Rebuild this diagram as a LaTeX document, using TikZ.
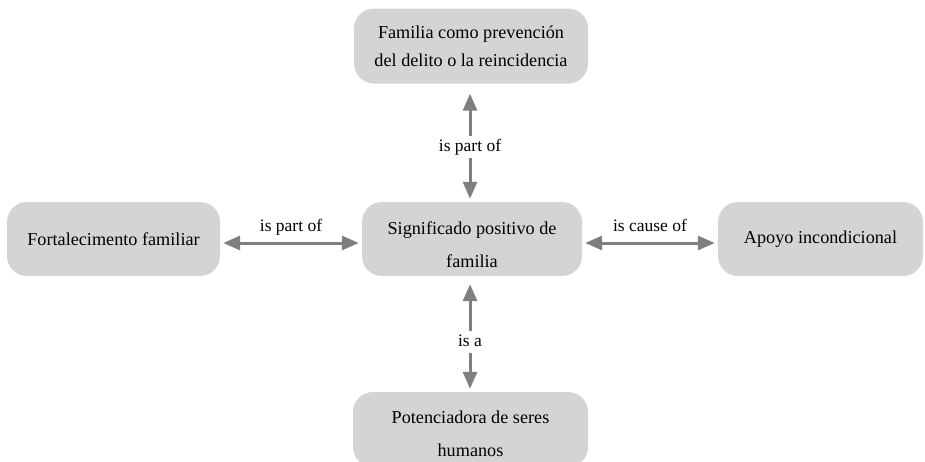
\documentclass[tikz,border=0pt]{standalone}
\usepackage{fontspec}
\setmainfont{Liberation Serif}
\usetikzlibrary{arrows.meta}
\definecolor{boxgray}{HTML}{D4D4D6}
\definecolor{arrgray}{HTML}{7F7F82}
\tikzset{
  concept/.style={rounded corners=20pt, fill=boxgray, draw=none, align=center,
    font=\fontsize{18.2}{28}\selectfont, inner sep=0pt},
  wide/.style={font=\fontsize{18.2}{33}\selectfont},
  link/.style={draw=arrgray, line width=3pt, {Triangle[length=17pt,width=14pt]}-{Triangle[length=17pt,width=14pt]}},
  lbl/.style={font=\fontsize{17.5}{22}\selectfont, inner sep=2pt, text height=12pt, text depth=4pt},
  vlbl/.style={lbl, fill=white, inner sep=3pt}
}
\begin{document}
\begin{tikzpicture}[x=1pt,y=-1pt]
\useasboundingbox (0,0) rectangle (925,461);
\node[concept, minimum width=234pt, minimum height=75pt] (top) at (471,46) {Familia como prevención\\del delito o la reincidencia};
\node[concept, minimum width=213pt, minimum height=74pt] (left) at (113.5,239) {Fortalecimento familiar};
\node[concept, wide, minimum width=220pt, minimum height=74pt] (mid) at (472,239) {\raisebox{-5pt}[\height][\depth]{\begin{tabular}{@{}c@{}}Significado positivo de\\familia\end{tabular}}};
\node[concept, minimum width=205pt, minimum height=74pt] (right) at (820.5,239) {Apoyo incondicional};
\node[concept, wide, minimum width=235pt, minimum height=75pt] (bot) at (470.5,429.5) {\raisebox{-4pt}[\height][\depth]{\begin{tabular}{@{}c@{}}Potenciadora de seres\\humanos\end{tabular}}};
\draw[link, shorten <=10pt, shorten >=3pt] ([xshift=-2pt]top.south -| mid.north) -- node[vlbl, pos=0.54] {is part of} ([xshift=-2pt]mid.north);
\draw[link, shorten <=3pt, shorten >=3pt] ([yshift=-4pt]mid.west) -- node[lbl, above=4pt] {is part of} ([yshift=-4pt]left.east);
\draw[link, shorten <=3pt, shorten >=3pt] ([yshift=-4pt]mid.east) -- node[lbl, above=4pt] {is cause of} ([yshift=-4pt]right.west);
\draw[link, shorten <=8pt, shorten >=3pt] ([xshift=-2pt]mid.south) -- node[vlbl, pos=0.57] {is a} ([xshift=-2pt]bot.north -| mid.south);
\end{tikzpicture}
\end{document}
